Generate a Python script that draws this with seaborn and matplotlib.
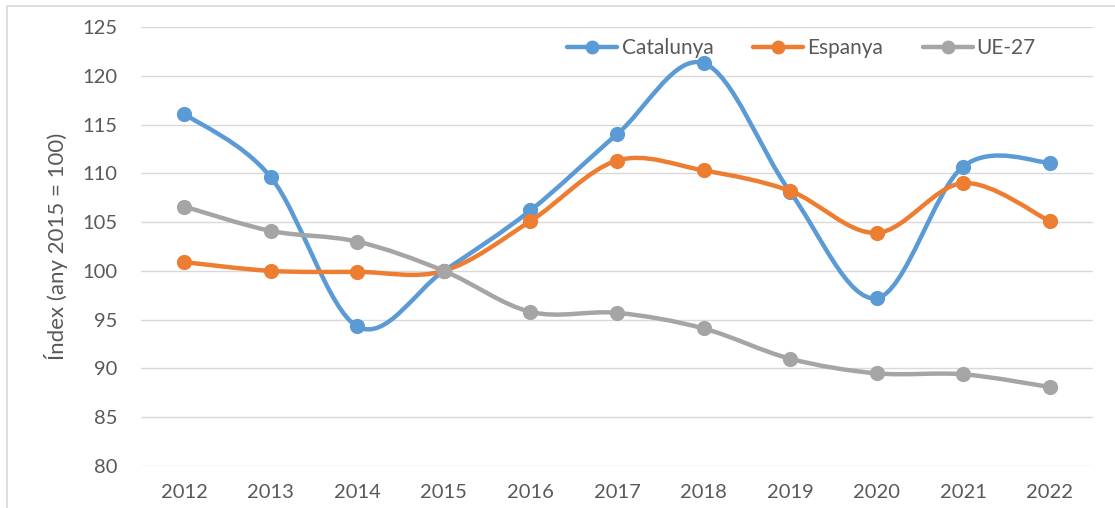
import numpy as np
import pandas as pd
import matplotlib
matplotlib.use("Agg")
import matplotlib.pyplot as plt
from matplotlib.path import Path
from matplotlib.patches import PathPatch, Rectangle
from matplotlib.lines import Line2D
import seaborn as sns

years = ["2012", "2013", "2014", "2015", "2016", "2017", "2018", "2019", "2020", "2021", "2022"]
catalunya = [116.1, 109.6, 94.3, 100.0, 106.2, 114.0, 121.3, 108.1, 97.2, 110.7, 111.1]
espanya = [100.9, 100.0, 99.9, 100.0, 105.1, 111.3, 110.3, 108.2, 103.9, 109.0, 105.1]
ue27 = [106.6, 104.1, 103.0, 100.0, 95.8, 95.7, 94.1, 91.0, 89.5, 89.4, 88.1]

series = ["Catalunya", "Espanya", "UE-27"]
values = [catalunya, espanya, ue27]
colors = {"Catalunya": "#5B9BD5", "Espanya": "#ED7D31", "UE-27": "#A5A5A5"}

df = pd.concat(
    [pd.DataFrame({"any": years, "pos": range(len(years)), "serie": s, "index": v})
     for s, v in zip(series, values)],
    ignore_index=True,
)

sns.set_style("white")
plt.rcParams["font.family"] = ["Lato", "DejaVu Sans"]

fig = plt.figure(figsize=(11.15, 5.08), dpi=100)
ax = fig.add_axes([141 / 1115, 1 - 466 / 508, (1093 - 141) / 1115, (466 - 27) / 508])


def smooth_path(x, y):
    # bezier segments like Excel's "smoothed line" option
    x = np.asarray(x, float)
    y = np.asarray(y, float)
    n = len(x)
    verts = [(x[0], y[0])]
    codes = [Path.MOVETO]
    for i in range(n - 1):
        p0 = np.array([x[max(i - 1, 0)], y[max(i - 1, 0)]])
        p1 = np.array([x[i], y[i]])
        p2 = np.array([x[i + 1], y[i + 1]])
        p3 = np.array([x[min(i + 2, n - 1)], y[min(i + 2, n - 1)]])
        c1 = p1 + (p2 - p0) / 6
        c2 = p2 - (p3 - p1) / 6
        verts += [tuple(c1), tuple(c2), tuple(p2)]
        codes += [Path.CURVE4] * 3
    return Path(verts, codes)


for k, s in enumerate(series):
    d = df[df["serie"] == s]
    patch = PathPatch(smooth_path(d["pos"], d["index"]), facecolor="none",
                      edgecolor=colors[s], lw=3.2, capstyle="round",
                      joinstyle="round", zorder=3 + 2 * k)
    ax.add_patch(patch)
    sns.scatterplot(data=d, x="pos", y="index", color=colors[s], s=120,
                    edgecolor=colors[s], linewidth=0, legend=False, ax=ax,
                    zorder=4 + 2 * k)

ax.set_xlim(-0.5, len(years) - 0.5)
ax.set_ylim(80, 125)
ax.set_xticks(range(len(years)))
ax.set_xticklabels(years)
ax.set_yticks(range(80, 126, 5))
ax.tick_params(axis="both", length=0, labelsize=14.5, labelcolor="#595959")
ax.tick_params(axis="y", pad=17)
ax.tick_params(axis="x", pad=13)
ax.yaxis.grid(True, color="#D9D9D9", lw=1)
ax.set_axisbelow(True)
for sp in ax.spines.values():
    sp.set_visible(False)
ax.set_xlabel("")
ax.set_ylabel("Índex (any 2015 = 100)", fontsize=16, color="#595959", labelpad=10)

handles = [Line2D([], [], color=colors[s], lw=3.2, marker="o", markersize=9,
                  solid_capstyle="round") for s in series]
ax.legend(handles, series, loc="center", bbox_to_anchor=(0.694, 0.952), ncol=3,
          frameon=False, fontsize=15, handlelength=2.4, handletextpad=0.2,
          columnspacing=1.9, labelcolor="#595959")

# chart area border
fig.patches.append(Rectangle((7 / 1115, -0.1), 1.2, 1.1 - 6 / 508, transform=fig.transFigure,
                             facecolor="none", edgecolor="#D9D9D9", lw=1.2))

fig.savefig("out.png", dpi=100)
